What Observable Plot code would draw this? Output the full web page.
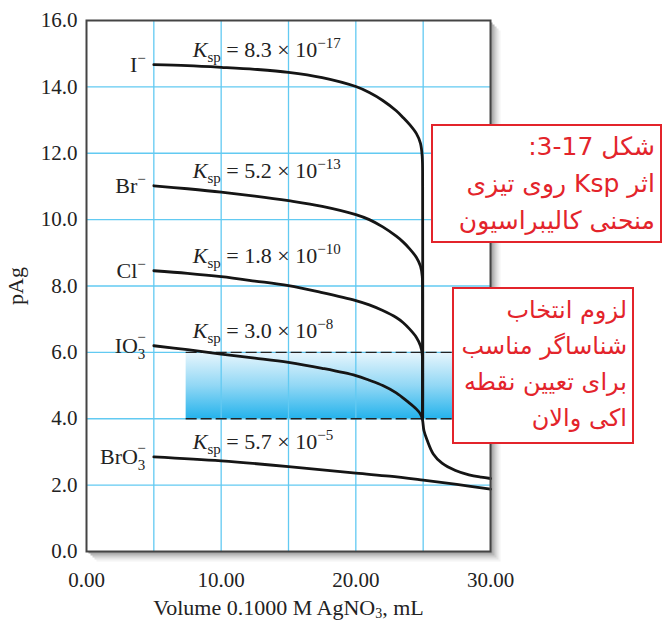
<!DOCTYPE html>
<html>
<head>
<meta charset="utf-8">
<script src="https://cdn.jsdelivr.net/npm/d3@7"></script>
<script src="https://cdn.jsdelivr.net/npm/@observablehq/plot@0.6"></script>
<style>
  body { margin: 0; background: #fff; }
  #wrap { position: relative; width: 662px; height: 620px; overflow: hidden; }
  .note { position: absolute; background: #fff; border: 2.5px solid #e3242b; color: #e3242b;
          font-family: "DejaVu Sans", "Liberation Sans", sans-serif; direction: rtl; text-align: right;
          box-sizing: border-box; white-space: nowrap; }
</style>
</head>
<body>
<div id="wrap"></div>
<script>
// ---------- data ----------
const ionBase = ["I", "Br", "Cl", "IO", "BrO"];
const ionSub = ["", "", "", "3", "3"];
const kspMantissa = ["8.3", "5.2", "1.8", "3.0", "5.7"];
const kspExponent = ["\u221217", "\u221213", "\u221210", "\u22128", "\u22125"];

const volI = [5, 7.5, 10, 12.5, 15, 17.5, 20, 21, 22, 23, 23.5, 24, 24.5, 24.8, 24.93, 24.96, 24.96];
const pAgI = [14.67, 14.64, 14.59, 14.53, 14.44, 14.28, 14.01, 13.83, 13.59, 13.28, 13.08, 12.86, 12.59, 12.3, 11.9, 11.0, 4.0];

const volBr = [5, 7.5, 10, 12.5, 15, 17.5, 20, 21, 22, 23, 23.5, 24, 24.5, 24.8, 24.93, 24.96, 24.96];
const pAgBr = [11.02, 10.93, 10.83, 10.71, 10.57, 10.4, 10.15, 10.0, 9.78, 9.5, 9.33, 9.12, 8.86, 8.6, 8.3, 7.6, 4.0];

const volCl = [5, 7.5, 10, 12.5, 15, 17.5, 20, 21, 22, 23, 23.5, 24, 24.5, 24.8, 24.93, 24.96, 24.96];
const pAgCl = [8.46, 8.38, 8.28, 8.15, 8.01, 7.8, 7.56, 7.43, 7.26, 7.05, 6.9, 6.7, 6.45, 6.2, 5.95, 5.4, 4.0];

const volIO3 = [5, 7.5, 10, 12.5, 15, 17.5, 20, 21, 22, 23, 23.8, 24.5, 24.8, 24.94, 25.06, 25.3, 25.75, 26.4, 27.4, 28.4, 29.3, 30];
const pAgIO3 = [6.2, 6.08, 5.95, 5.83, 5.7, 5.52, 5.3, 5.16, 5.0, 4.78, 4.53, 4.29, 4.14, 3.99, 3.64, 3.35, 2.94, 2.66, 2.44, 2.31, 2.24, 2.2];

const volBrO3 = [5, 10, 15, 20, 22.5, 25, 27.5, 30];
const pAgBrO3 = [2.85, 2.73, 2.56, 2.36, 2.27, 2.15, 2.02, 1.88];

const xTicks = [0, 10, 20, 30];
const yTicks = [0, 2, 4, 6, 8, 10, 12, 14, 16];
const xGrid = [5, 10, 15, 20, 25];
const yGrid = [2, 4, 6, 8, 10, 12, 14];

// indicator range band (pAg 4 to 6)
const bandVolume = [7.4, 27.3];
const bandPAg = [4, 6];

const xLabel = "Volume 0.1000 M AgNO3, mL";
const yLabel = "pAg";

// ---------- tables ----------
const seriesVol = [volI, volBr, volCl, volIO3, volBrO3];
const seriesPAg = [pAgI, pAgBr, pAgCl, pAgIO3, pAgBrO3];
const rows = [];
seriesVol.forEach((vs, k) => vs.forEach((v, j) => rows.push({ion: ionBase[k] + ionSub[k], v, p: seriesPAg[k][j]})));
const starts = seriesVol.map((vs, k) => ({ion: ionBase[k] + ionSub[k] + "\u2212", v: vs[0], p: seriesPAg[k][0],
  ksp: "Ksp = " + kspMantissa[k] + " \u00d7 10" + kspExponent[k]}));
const band = [{x1: bandVolume[0], x2: bandVolume[1], y1: bandPAg[0], y2: bandPAg[1]}];

const serif = '"Liberation Serif", "Times New Roman", serif';

// soft drop shadow behind the plot area, as stacked offset frames
const shadowSteps = [[10, "#f4f4f4"], [8, "#e4e4e4"], [6, "#d0d0d0"], [4, "#b8b8b8"], [2, "#9e9e9e"]];
const shadowMarks = shadowSteps.map(([o, c]) => Plot.frame({fill: c, stroke: "none", dx: o, dy: o}));

const chart = Plot.plot({
  width: 662, height: 620,
  marginLeft: 86, marginRight: 172, marginTop: 20, marginBottom: 69,
  style: {fontFamily: serif, fontSize: "21px", background: "white", color: "#222", overflow: "visible"},
  x: {domain: [0, 30]},
  y: {domain: [0, 16]},
  marks: [
    ...shadowMarks,
    Plot.frame({fill: "white", stroke: "none"}),
    Plot.rect(band, {x1: "x1", x2: "x2", y1: "y1", y2: "y2", fill: "url(#bandGrad)"}),
    Plot.ruleX(xGrid, {stroke: "#62caf2", strokeWidth: 1.3}),
    Plot.ruleY(yGrid, {stroke: "#62caf2", strokeWidth: 1.3}),
    Plot.ruleY(bandPAg, {x1: bandVolume[0], x2: bandVolume[1], stroke: "#222", strokeWidth: 1.4, strokeDasharray: "11,4"}),
    Plot.line(rows, {x: "v", y: "p", z: "ion", curve: "catmull-rom", stroke: "#151515", strokeWidth: 2.8}),
    Plot.text(starts, {x: "v", y: "p", text: "ion", textAnchor: "end", lineAnchor: "middle", dx: -8, fill: "#222", fontSize: 22, ariaDescription: "ionlabels"}),
    Plot.text(starts, {x: "v", y: "p", text: "ksp", textAnchor: "start", lineAnchor: "bottom", dx: 39, dy: -8, fill: "#222", fontSize: 22, ariaDescription: "ksplabels"}),
    Plot.axisX(xTicks, {tickSize: 0, tickPadding: 21, tickFormat: d3.format(".2f"), label: xLabel, labelAnchor: "center", labelArrow: "none", labelOffset: 63, fontSize: 21}),
    Plot.axisY(yTicks, {tickSize: 0, tickPadding: 9, tickFormat: d3.format(".1f"), label: yLabel, labelAnchor: "center", labelArrow: "none", labelOffset: 79, fontSize: 21}),
    Plot.frame({stroke: "#444", strokeWidth: 2})
  ]
});

const wrap = document.getElementById("wrap");
wrap.appendChild(chart);
const svg = d3.select(chart);

// defs inside the chart svg
svg.insert("defs", ":first-child").html(
  '<linearGradient id="bandGrad" x1="0" y1="0" x2="0" y2="1">' +
  '<stop offset="0" stop-color="#e8f6fd"/><stop offset="0.5" stop-color="#93d8f5"/><stop offset="1" stop-color="#25b3ec"/>' +
  '</linearGradient>');

// ion labels with sub/superscripts
svg.selectAll('[aria-description="ionlabels"] text').each(function(d, i) {
  const t = d3.select(this).text(null).style("white-space", "pre");
  t.append("tspan").text(ionBase[i]);
  if (ionSub[i]) {
    t.append("tspan").attr("dy", 6).attr("font-size", 15).text(ionSub[i]);
    t.append("tspan").attr("dx", -8).attr("dy", -17).attr("font-size", 15).text("\u2212");
  } else {
    t.append("tspan").attr("dy", -9).attr("font-size", 15).text("\u2212");
  }
});

// Ksp labels
svg.selectAll('[aria-description="ksplabels"] text').each(function(d, i) {
  const t = d3.select(this).text(null).style("white-space", "pre");
  t.append("tspan").attr("font-style", "italic").text("K");
  t.append("tspan").attr("dy", 5).attr("font-size", 15).text("sp");
  t.append("tspan").attr("dy", -5).text(" = " + kspMantissa[i] + " \u00d7 10");
  t.append("tspan").attr("dy", -9).attr("font-size", 15).text(kspExponent[i]);
});

// x label with subscript
svg.selectAll("text").each(function() {
  if (this.textContent === xLabel) {
    const t = d3.select(this).text(null).style("white-space", "pre").attr("font-size", 22);
    t.append("tspan").text("Volume 0.1000 M AgNO");
    t.append("tspan").attr("dy", 3).attr("font-size", 14).text("3");
    t.append("tspan").attr("dy", -3).text(", mL");
  } else if (this.textContent === yLabel) {
    d3.select(this).attr("font-size", 22);
  }
});

// red annotation boxes
function note(left, top, width, height, lines, fs, lh, pad) {
  const d = document.createElement("div");
  d.className = "note";
  Object.assign(d.style, {left: left + "px", top: top + "px", width: width + "px", height: height + "px",
    fontSize: fs + "px", lineHeight: lh + "px", padding: pad});
  lines.forEach(s => { const l = document.createElement("div"); l.textContent = s; d.appendChild(l); });
  wrap.appendChild(d);
}
note(431, 124, 231, 119, ["شکل \u20663-17\u2069:", "اثر Ksp روی تیزی", "منحنی کالیبراسیون"], 25, 37, "2px 5px 0 0");
note(452, 287, 182, 157, ["لزوم انتخاب", "شناساگر مناسب", "برای تعیین نقطه", "اکی والان"], 24, 36, "3px 5px 0 0");
</script>
</body>
</html>
